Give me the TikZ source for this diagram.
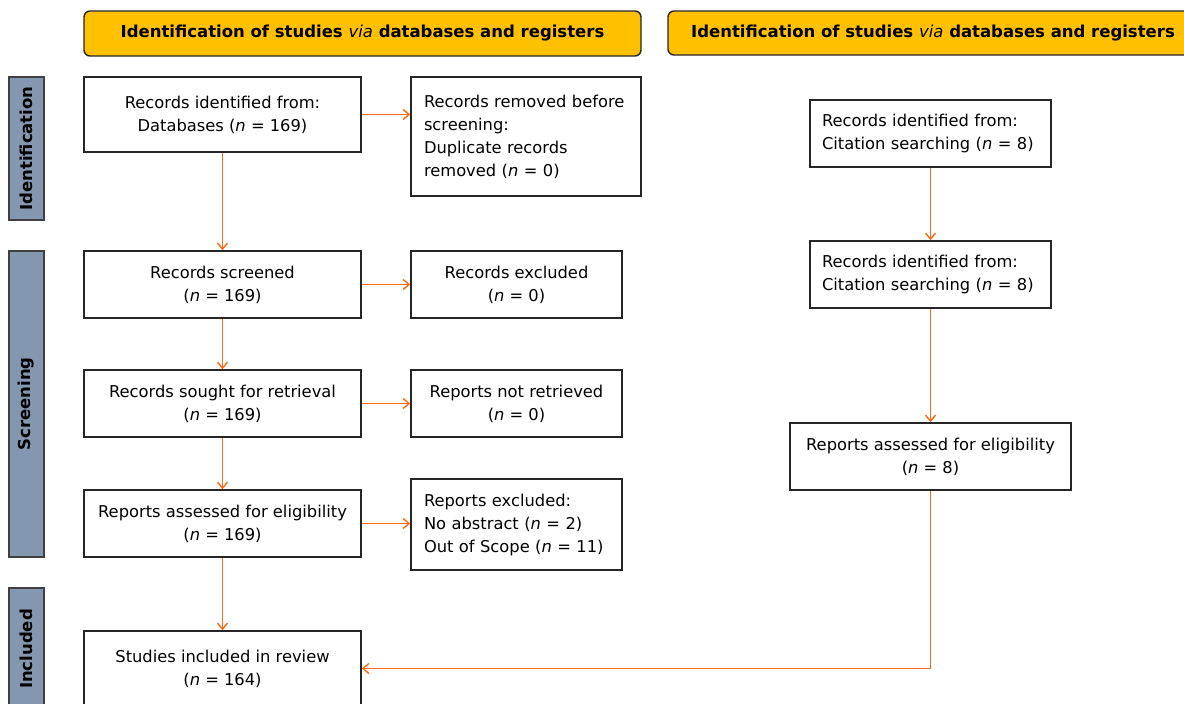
\documentclass[tikz,border=0pt]{standalone}
\usepackage{fontspec}
\setmainfont{DejaVu Sans}
\usepackage{tikz}
\usetikzlibrary{positioning,arrows.meta}
\usepackage{xcolor}

\definecolor{hdrgold}{RGB}{255,192,0}
\definecolor{sidegray}{RGB}{132,151,176}
\definecolor{flow}{RGB}{255,106,19}

\begin{document}
\begin{tikzpicture}[x=1pt,y=-1pt,
        every node/.style={font=\fontsize{16.3}{23}\selectfont},
        stage/.style={draw=black!85,line width=1.6pt,fill=white,align=center,inner sep=0pt},
        lstage/.style={stage,align=left,inner xsep=13pt,inner ysep=0pt},
        hdr/.style={draw=black!85,line width=1.4pt,fill=hdrgold,rounded corners=6pt,
          font=\fontsize{16.5}{20}\selectfont\bfseries},
        phase/.style={draw=black!75,line width=1.2pt,fill=sidegray,rotate=90,
          font=\fontsize{16.5}{20}\selectfont\bfseries,inner sep=0pt},
        flowarr/.style={flow,line width=1.9pt,-{Straight Barb[length=6pt,width=10pt,line width=1.4pt]}},
      ]
      \useasboundingbox (0,0) rectangle (1184,704);

      % headers
      \node[hdr,minimum width=557,minimum height=45] (hdrA) at (362.5,33.5)
        {Identification of studies \textit{\mdseries via} databases and registers};
      \node[hdr,minimum width=530,minimum height=44] (hdrB) at (933,33)
        {Identification of studies \textit{\mdseries via} databases and registers};

      % phases
      \node[phase,minimum width=143,minimum height=35] (pid) at (26.5,148.5) {Identification};
      \node[phase,minimum width=306,minimum height=35] (pscr) at (26.5,404) {Screening};
      \node[phase,minimum width=122,minimum height=35] (pinc) at (26.5,649) {Included};

      % databases and registers
      \node[stage,minimum width=277,minimum height=75] (db) at (222.5,114.5)
        {Records identified from:\\Databases (\textit{n} = 169)};
      \node[lstage,text width=204,minimum height=119] (rem) at (526,136.5)
        {Records removed before\\screening:\\Duplicate records\\removed (\textit{n} = 0)};
      \node[stage,minimum width=277,minimum height=67] (scr) at (222.5,284.5)
        {Records screened\\(\textit{n} = 169)};
      \node[stage,minimum width=211,minimum height=67] (exc) at (516.5,284.5)
        {Records excluded\\(\textit{n} = 0)};
      \node[stage,minimum width=277,minimum height=67] (sought) at (222.5,403.5)
        {Records sought for retrieval\\(\textit{n} = 169)};
      \node[stage,minimum width=211,minimum height=67] (notret) at (516.5,403.5)
        {Reports not retrieved\\(\textit{n} = 0)};
      \node[stage,minimum width=277,minimum height=67] (elig) at (222.5,523.5)
        {Reports assessed for eligibility\\(\textit{n} = 169)};
      \node[lstage,inner xsep=13pt,text width=185,minimum height=91] (rexc) at (516.5,524.5)
        {Reports excluded:\\No abstract (\textit{n} = 2)\\Out of Scope (\textit{n} = 11)};
      \node[stage,minimum width=277,minimum height=75] (incl) at (222.5,668.5)
        {Studies included in review\\(\textit{n} = 164)};

      % other methods
      \node[lstage,inner xsep=12pt,text width=217,minimum height=67] (cit1) at (930.5,133.5)
        {Records identified from:\\Citation searching (\textit{n} = 8)};
      \node[lstage,inner xsep=12pt,text width=217,minimum height=67] (cit2) at (930.5,274.5)
        {Records identified from:\\Citation searching (\textit{n} = 8)};
      \node[stage,minimum width=281,minimum height=67] (elig2) at (930.5,456.5)
        {Reports assessed for eligibility\\(\textit{n} = 8)};

      \draw[flowarr] (db) -- (scr);
      \draw[flowarr] (scr) -- (sought);
      \draw[flowarr] (sought) -- (elig);
      \draw[flowarr] (elig) -- (incl);
      \draw[flowarr] (db.east) -- (db.east -| rem.west);
      \draw[flowarr] (scr) -- (exc);
      \draw[flowarr] (sought) -- (notret);
      \draw[flowarr] (elig.east) -- (elig.east -| rexc.west);
      \draw[flowarr] (cit1) -- (cit2);
      \draw[flowarr] (cit2) -- (elig2);
      \draw[flowarr] (elig2.south) |- (incl.east);
    \end{tikzpicture}
\end{document}
